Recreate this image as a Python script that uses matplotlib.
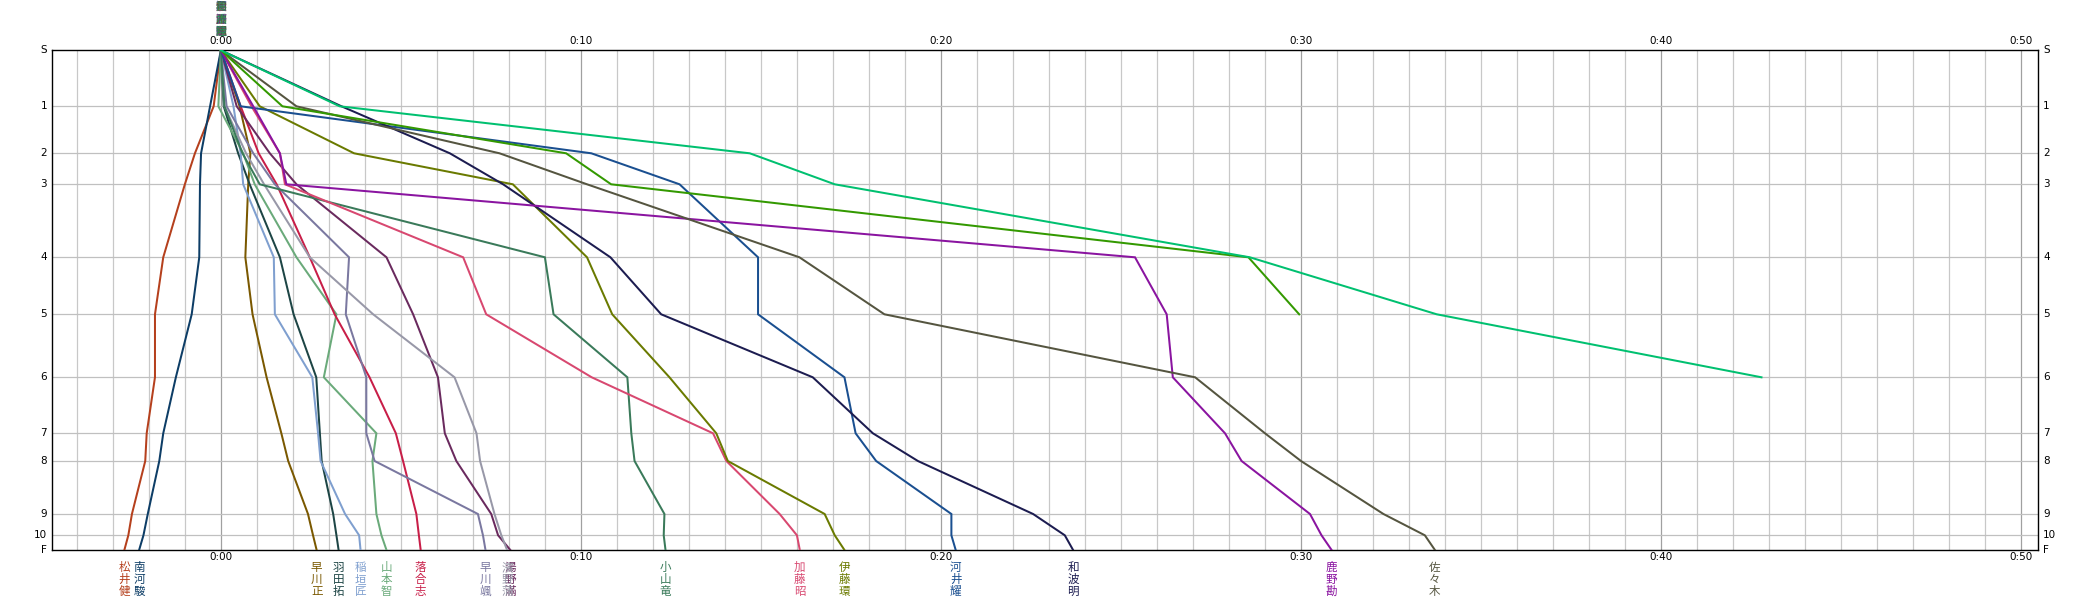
import matplotlib
matplotlib.use("Agg")
import matplotlib.pyplot as plt
import matplotlib.transforms as mtransforms

plt.rcParams['font.family'] = ['Noto Sans CJK JP', 'DejaVu Sans']

# control points and their vertical positions (course-relative scale)
controls = ['S', '1', '2', '3', '4', '5', '6', '7', '8', '9', '10', 'F']
ctrl_pos = [0, 56, 103, 134, 207, 264, 327, 383, 410.7, 463.7, 485, 499.7]

# time behind reference at each control, minutes
matsui = [0, -0.2, -0.72, -1.0, -1.6, -1.83, -1.83, -2.06, -2.1, -2.47, -2.57, -2.68]
minamikawa = [0, -0.3, -0.55, -0.58, -0.6, -0.81, -1.25, -1.6, -1.71, -2.03, -2.15, -2.27]
hayakawa_t = [0, 0.52, 0.82, 0.76, 0.68, 0.88, 1.27, 1.68, 1.87, 2.42, 2.56, 2.66]
haneda = [0, 0.08, 0.48, 0.8, 1.64, 2.02, 2.65, 2.75, 2.8, 3.12, 3.21, 3.27]
inagaki = [0, 0.35, 0.55, 0.62, 1.47, 1.5, 2.54, 2.7, 2.77, 3.45, 3.84, 3.88]
yamamoto = [0, -0.07, 0.62, 0.94, 2.1, 3.21, 2.86, 4.32, 4.21, 4.32, 4.46, 4.6]
ochiai = [0, 0.55, 1.05, 1.55, 2.47, 3.16, 4.13, 4.86, 5.06, 5.43, 5.5, 5.55]
hayakawa_h = [0, 0.16, 0.9, 1.5, 3.56, 3.47, 4.04, 4.04, 4.27, 7.14, 7.28, 7.35]
yuno = [0, 0.44, 1.36, 2.1, 4.6, 5.34, 6.03, 6.22, 6.54, 7.51, 7.7, 8.04]
hamano = [0, 0.1, 0.7, 1.2, 2.47, 4.23, 6.49, 7.1, 7.2, 7.6, 7.79, 7.95]
koyama = [0, 0.1, 0.6, 1.08, 9.0, 9.24, 11.29, 11.4, 11.49, 12.32, 12.3, 12.35]
kato = [0, 0.85, 1.64, 1.78, 6.73, 7.37, 10.3, 13.67, 14.04, 15.52, 16.0, 16.08]
ito = [0, 1.08, 3.7, 8.11, 10.17, 10.87, 12.46, 13.76, 14.08, 16.77, 17.05, 17.32]
kawai = [0, 0.55, 10.29, 12.74, 14.92, 14.92, 17.32, 17.63, 18.2, 20.29, 20.29, 20.41]
wanami = [0, 3.35, 6.36, 7.84, 10.82, 12.23, 16.44, 18.11, 19.36, 22.56, 23.44, 23.67]
kano = [0, 0.9, 1.64, 1.82, 25.39, 26.27, 26.44, 27.89, 28.35, 30.25, 30.57, 30.85]
sasaki = [0, 2.1, 7.74, 10.17, 16.07, 18.43, 27.06, 29.0, 30.0, 32.29, 33.44, 33.72]
dnf_a = [0, 1.71, 9.59, 10.84, 28.54, 29.95]
dnf_b = [0, 3.3, 14.69, 17.05, 28.58, 33.77, 42.79]

names = ['松井健', '南河駿', '早川正', '羽田拓', '稲垣匠', '山本智', '落合志', '早川颯',
         '湯野滿', '濱野蒲', '小山竜', '加藤昭', '伊藤環', '河井耀', '和波明', '鹿野勘',
         '佐々木', '鈴木翔', '高橋陸']
colors = ['#b5401d', '#0d3d66', '#7a5800', '#1d4545', '#7f9fcf', '#6aaa7a', '#c81e48',
          '#7a78a0', '#6a2a5e', '#9898a8', '#3a7a5a', '#d84870', '#6a7a00', '#1a4f90',
          '#1c1c50', '#8a14a0', '#555540', '#339900', '#00c070']
series = [matsui, minamikawa, hayakawa_t, haneda, inagaki, yamamoto, ochiai, hayakawa_h,
          yuno, hamano, koyama, kato, ito, kawai, wanami, kano, sasaki, dnf_a, dnf_b]

W, H = 2089, 600
fig = plt.figure(figsize=(W / 100, H / 100), dpi=100)
x0, x1, y0, y1 = 52, 2038, 50.3, 550
ax = fig.add_axes([x0 / W, 1 - y1 / H, (x1 - x0) / W, (y1 - y0) / H])
ax.set_xlim(-4.69, 50.47)
ax.set_ylim(ctrl_pos[-1], 0)
ax.set_xticks([])
ax.set_yticks([])
for sp in ax.spines.values():
    sp.set_color('black')
    sp.set_linewidth(1.0)

# grid
for m in range(-4, 51):
    c = '#a0a0a0' if m % 10 == 0 else '#c8c8c8'
    ax.axvline(m, color=c, lw=0.9, zorder=1)
for p in ctrl_pos[1:-1]:
    ax.axhline(p, color='#c0c0c0', lw=0.9, zorder=1)

for vals, col in zip(series, colors):
    ax.plot(vals, ctrl_pos[:len(vals)], color=col, lw=1.45, zorder=3,
            solid_joinstyle='miter')

# control labels on both sides
ytr = mtransforms.blended_transform_factory(ax.transAxes, ax.transData)
for lab, p in zip(controls, ctrl_pos):
    ax.text(-0.0025, p, lab, transform=ytr, ha='right', va='center',
            fontsize=7.5, family='DejaVu Sans')
    ax.text(1.0025, p, lab, transform=ytr, ha='left', va='center',
            fontsize=7.5, family='DejaVu Sans')

# time labels top and bottom
xtr = mtransforms.blended_transform_factory(ax.transData, fig.transFigure)
for t in range(0, 51, 10):
    lab = '0:%02d' % t
    ax.text(t, 1 - 46 / H, lab, transform=xtr, ha='center', va='bottom',
            fontsize=7.5, family='DejaVu Sans')
    ax.text(t, 1 - 552 / H, lab, transform=xtr, ha='center', va='top',
            fontsize=7.5, family='DejaVu Sans')

# runner names: stacked at the start, and at each finish position
for name, col, vals in zip(names, colors, series):
    for k, ch in enumerate(name):
        ax.text(0, 1 - (7 + 12.5 * k) / H, ch, transform=xtr, ha='center',
                va='center', fontsize=7.8, color=col, alpha=0.45, clip_on=False)
    if len(vals) == len(controls):
        for k, ch in enumerate(name):
            ax.text(vals[-1], 1 - (567.5 + 11.8 * k) / H, ch, transform=xtr,
                    ha='center', va='center', fontsize=8.3, color=col,
                    clip_on=False)

fig.savefig('out.png', dpi=100)
